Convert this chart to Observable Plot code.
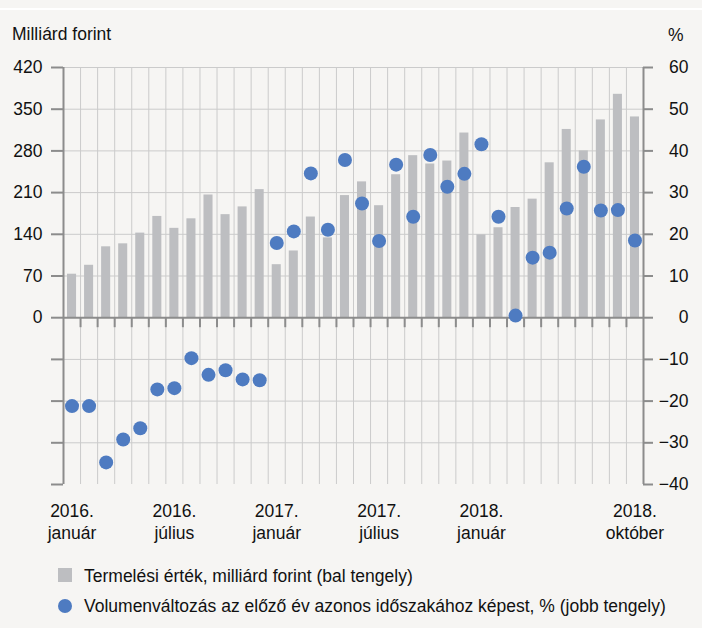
<!DOCTYPE html>
<html>
<head>
<meta charset="utf-8">
<script src="https://cdn.jsdelivr.net/npm/d3@7"></script>
<script src="https://cdn.jsdelivr.net/npm/@observablehq/plot@0.6"></script>
<style>
  html, body { margin: 0; padding: 0; background: #f6f5f3; }
  body { width: 702px; height: 628px; position: relative; overflow: hidden;
         font-family: "Liberation Sans", Arial, sans-serif; color: #111; }
  #stripe { position: absolute; left: 0; top: 8px; width: 702px; height: 2px; background: #ffffff; }
  #chart { position: absolute; left: 0; top: 0; }
  .lbl { position: absolute; font-size: 17.5px; line-height: 17px; white-space: nowrap; }
  .sw { position: absolute; }
</style>
</head>
<body>
<div id="stripe"></div>
<div id="chart"></div>
<div class="lbl" style="left:12px; top:26px;">Milliárd forint</div>
<div class="lbl" style="left:668px; top:27px;">%</div>
<div class="sw" style="left:58px; top:568px; width:14px; height:14px; background:#bdbec1;"></div>
<div class="lbl" style="left:84px; top:568px;">Termelési érték, milliárd forint (bal tengely)</div>
<div class="sw" style="left:58px; top:599px; width:14px; height:14px; border-radius:50%; background:#4e7bc1;"></div>
<div class="lbl" style="left:84px; top:598px;">Volumenváltozás az előző év azonos időszakához képest, % (jobb tengely)</div>
<script>
// Months: 2016 January ... 2018 October
const months = [
  "2016-01","2016-02","2016-03","2016-04","2016-05","2016-06","2016-07","2016-08","2016-09","2016-10","2016-11","2016-12",
  "2017-01","2017-02","2017-03","2017-04","2017-05","2017-06","2017-07","2017-08","2017-09","2017-10","2017-11","2017-12",
  "2018-01","2018-02","2018-03","2018-04","2018-05","2018-06","2018-07","2018-08","2018-09","2018-10"
];
// Production value, billion HUF (left axis)
const productionValue = [
  73, 88, 119, 124, 142, 170, 150, 166, 206, 173, 186, 215,
  89, 112, 169, 134, 205, 228, 188, 240, 272, 258, 263, 310,
  139, 151, 185, 199, 260, 316, 280, 332, 375, 337
];
// Volume change vs same period of previous year, % (right axis)
const volumeChange = [
  -21.2, -21.2, -34.7, -29.2, -26.5, -17.2, -16.9, -9.7, -13.7, -12.6, -14.8, -15.0,
  17.9, 20.7, 34.6, 21.1, 37.8, 27.4, 18.4, 36.7, 24.2, 39.0, 31.4, 34.5,
  41.6, 24.2, 0.5, 14.4, 15.6, 26.2, 36.2, 25.7, 25.8, 18.5
];
const xTickMonths = ["2016-01","2016-07","2017-01","2017-07","2018-01","2018-10"];
const xTickLabels = ["2016.\njanuár","2016.\njúlius","2017.\njanuár","2017.\njúlius","2018.\njanuár","2018.\noktóber"];
const leftTickValues = [420, 350, 280, 210, 140, 70, 0];
const leftMinorTicks = [-70, -140, -210, -280];
const rightTickValues = [60, 50, 40, 30, 20, 10, 0, -10, -20, -30, -40];

const ratio = 420 / 60; // left units per right-axis percent

const rows = months.map((m, i) => ({
  month: m, i, value: productionValue[i], pct: volumeChange[i]
}));
const xTicks = xTickMonths.map((m, k) => ({i: months.indexOf(m), label: xTickLabels[k]}));
const n = months.length;
const boundaries = d3.range(1, n);

const axisColor = "#8c8c8c";
const gridColor = "#cbcbcb";
const textColor = "#111";
const fmt = d => (d < 0 ? "\u2212" + Math.abs(d) : String(d));

const chart = Plot.plot({
  width: 702,
  height: 545,
  marginLeft: 63,
  marginRight: 59,
  marginTop: 67,
  marginBottom: 61,
  style: {background: "transparent", fontFamily: "'Liberation Sans', Arial, sans-serif", fontSize: "17.5px", color: textColor, overflow: "visible"},
  x: {domain: [0, n], axis: null},
  y: {domain: [-280, 420], axis: null},
  marks: [
    // horizontal grid
    Plot.ruleY(leftTickValues.concat(leftMinorTicks).filter(d => d !== 0 && d !== -280), {stroke: gridColor, strokeWidth: 1}),
    // vertical grid at month boundaries
    Plot.ruleX(boundaries, {y1: -280, y2: 420, stroke: gridColor, strokeWidth: 1}),
    // bars
    Plot.rectY(rows, {x1: "i", x2: d => d.i + 1, y: "value", insetLeft: 4, insetRight: 4, fill: "#bdbec1"}),
    // zero line
    Plot.ruleY([0], {stroke: axisColor, strokeWidth: 2}),
    // small ticks below zero line
    Plot.ruleX(boundaries, {y1: 0, y2: 0, insetBottom: -10, stroke: axisColor, strokeWidth: 2}),
    // axis lines
    Plot.ruleX([0, n], {y1: -280, y2: 420, stroke: axisColor, strokeWidth: 2}),
    // left ticks
    Plot.ruleY(leftTickValues.concat(leftMinorTicks), {x1: 0, x2: 0, insetLeft: -12, stroke: axisColor, strokeWidth: 2}),
    // right ticks
    Plot.ruleY(rightTickValues, {y: d => d * ratio, x1: n, x2: n, insetRight: -10, stroke: axisColor, strokeWidth: 2}),
    // left labels
    Plot.text(leftTickValues, {x: 0, y: d => d, text: d => String(d), textAnchor: "end", dx: -21, fontSize: 17.5, fill: textColor}),
    // right labels
    Plot.text(rightTickValues, {x: n, y: d => d * ratio, text: fmt, textAnchor: "end", dx: 45, fontSize: 17.5, fill: textColor}),
    // x labels
    Plot.text(xTicks, {x: d => d.i + 0.5, y: -280, text: "label", lineAnchor: "top", dy: 17, lineHeight: 1.25, fontSize: 17.5, fill: textColor}),
    // dots
    Plot.dot(rows, {x: d => d.i + 0.5, y: d => d.pct * ratio, r: 7, fill: "#4e7bc1", stroke: "none"})
  ]
});
document.getElementById("chart").appendChild(chart);
</script>
</body>
</html>
